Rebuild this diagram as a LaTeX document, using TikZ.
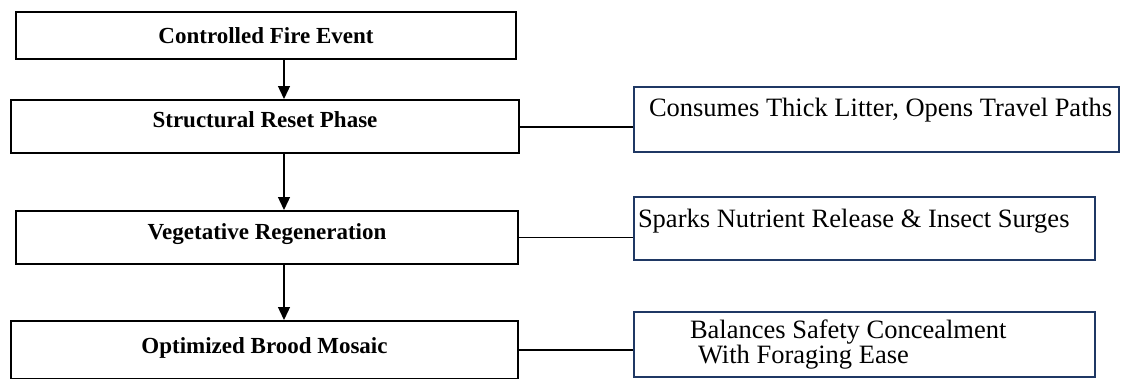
\documentclass[tikz,border=0pt]{standalone}
\usepackage{fontspec}
\setmainfont{Liberation Serif}
\usetikzlibrary{arrows.meta,positioning}
\definecolor{navy}{HTML}{1F3864}
\tikzstyle{flow} = [-{Triangle[length=13pt,width=12pt]}, line width=1.3pt]
\tikzstyle{link} = [line width=1.6pt]
\tikzstyle{phase} = [rectangle, draw, line width=2pt, font=\fontsize{23}{27}\selectfont\bfseries, text height=16pt, text depth=12pt]
\tikzstyle{effect} = [rectangle, draw=navy, line width=2pt, font=\fontsize{26.5}{24.5}\selectfont, align=left, inner xsep=0pt]
\newcommand{\padline}[3]{\makebox[#1][l]{\hspace*{#2}#3}}

\begin{document}
\begin{tikzpicture}[x=1pt, y=-1pt]
    \useasboundingbox (0,0) rectangle (1123,378);
    \begin{scope}
    \clip (0,0) rectangle (1123,378);
    % Phases
    \node[phase, minimum width=500pt, minimum height=47pt, text depth=1pt] (fire) at (266,35.5) {Controlled Fire Event};
    \node[phase, minimum width=508pt, minimum height=53pt, text depth=14pt] (reset) at (265,126.5) {Structural Reset Phase};
    \node[phase, minimum width=502pt, minimum height=53pt] (regen) at (267,237.5) {Vegetative Regeneration};
    \node[phase, minimum width=507pt, minimum height=58pt, text depth=9pt] (mosaic) at (264.5,350) {Optimized Brood Mosaic};
    % Effects
    \node[effect, minimum width=485pt, minimum height=65pt, text height=18pt, text depth=24pt] (litter) at (876.5,119.5) {\padline{485pt}{15pt}{Consumes Thick Litter, Opens Travel Paths}};
    \node[effect, minimum width=461pt, minimum height=63pt, text height=18pt, text depth=20pt] (nutrient) at (864.5,228.5) {\padline{461pt}{4pt}{Sparks Nutrient Release \& Insect Surges}};
    \node[effect, minimum width=461pt, minimum height=65pt] (balance) at (864.5,344.5) {\padline{461pt}{56pt}{Balances Safety Concealment}\\\padline{461pt}{64pt}{With Foraging Ease}};
    % Flow
    \coordinate (axis) at (284,0);
    \draw[flow] (fire.south -| axis) -- (reset.north -| axis);
    \draw[flow] (reset.south -| axis) -- (regen.north -| axis);
    \draw[flow] (regen.south -| axis) -- (mosaic.north -| axis);
    % Links
    \draw[link] ([yshift=-0.5pt]reset.east) -- ([yshift=-0.5pt]reset.east -| litter.west);
    \draw[link] (regen.east) -- (regen.east -| nutrient.west);
    \draw[link] (mosaic.east) -- (mosaic.east -| balance.west);
    \end{scope}
\end{tikzpicture}
\end{document}
